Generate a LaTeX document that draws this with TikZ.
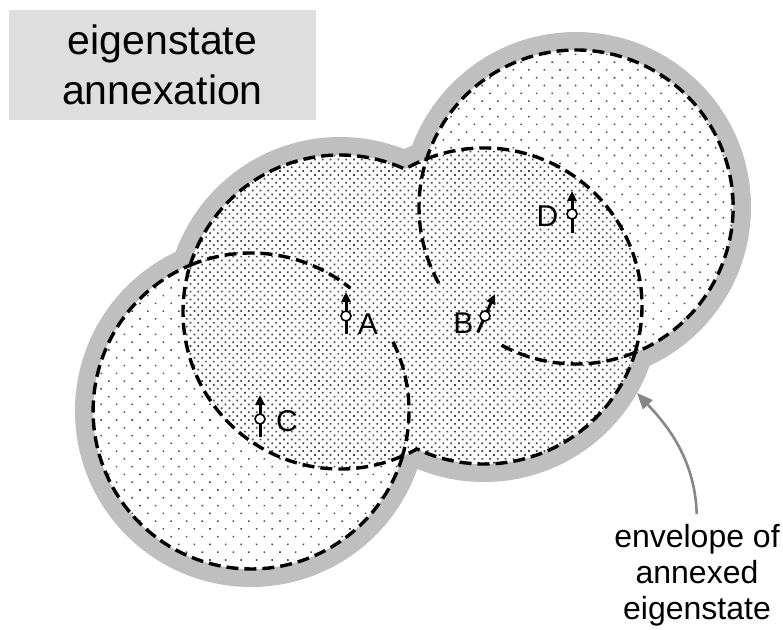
\documentclass[tikz,border=0pt]{standalone}
\usepackage{fontspec}
\setmainfont{Liberation Sans}
\usetikzlibrary{arrows.meta,patterns.meta}

\tikzset{
  band/.style={fill=black!25},
  sparse/.style={pattern={Dots[distance=5.5pt,radius=0.55pt,angle=45]},pattern color=black!70},
  dense/.style={pattern={Dots[distance=2.75pt,radius=0.6pt,angle=45]},pattern color=black!72},
  rim/.style={draw=black,line width=1.7pt,dash pattern=on 6pt off 3pt},
  spin/.style={line width=1.5pt,-{Triangle[length=5pt,width=4.5pt]}},
  knob/.style={circle,draw,fill=white,line width=0.8pt,minimum size=5pt,inner sep=0pt},
  tag/.style={font=\fontsize{15}{17}\selectfont,inner sep=0pt},
}

\begin{document}
\begin{tikzpicture}[x=0.5pt,y=-0.5pt]
   \useasboundingbox (0,0) rectangle (783,630);
   % centres of the four eigenstate discs
   \coordinate (cA) at (340,312);
   \coordinate (cB) at (484,306);
   \coordinate (cC) at (251,411);
   \coordinate (cD) at (576,207);

   % grey envelope and the dotted fills
   \fill[band] (cA) circle[radius=175] (cB) circle[radius=176] (cC) circle[radius=176] (cD) circle[radius=175];
   \fill[white] (cA) circle[radius=157] (cB) circle[radius=158] (cC) circle[radius=158] (cD) circle[radius=157];
   \path[sparse] (cA) circle[radius=157] (cB) circle[radius=158] (cC) circle[radius=158] (cD) circle[radius=157];
   \fill[white] (cA) circle[radius=157] (cB) circle[radius=158];
   \path[dense] (cA) circle[radius=157] (cB) circle[radius=158];

   % outer dashed rim
   \draw[rim] ([shift={(197.4:157)}]cA) arc[start angle=197.4,end angle=294.5,radius=157]
      arc[start angle=-120,end angle=-111.3,radius=158]
      arc[start angle=-162.1,end angle=67.9,radius=157]
      arc[start angle=17.1,end angle=115.2,radius=158]
      arc[start angle=60.7,end angle=66.55,radius=157]
      arc[start angle=16.6,end angle=247.35,radius=158] -- cycle;

   % inner dashed lenses
   \draw[rim] ([shift={(-112.65:158)}]cC) arc[start angle=-112.65,end angle=-51,radius=158];
   \draw[rim] ([shift={(-26:158)}]cC) arc[start angle=-26,end angle=16.6,radius=158];
   \draw[rim] ([shift={(66.55:157)}]cA) arc[start angle=66.55,end angle=197.4,radius=157];
   \draw[rim] ([shift={(-111.3:158)}]cB) arc[start angle=-111.3,end angle=17.1,radius=158];
   \draw[rim] ([shift={(67.9:157)}]cD) arc[start angle=67.9,end angle=119,radius=157];
   \draw[rim] ([shift={(151:157)}]cD) arc[start angle=151,end angle=197.9,radius=157];

   % spins
   \coordinate (bA) at (346,334);
   \coordinate (tA) at (346,292);
   \draw[spin] (bA) -- (tA);
   \node[knob] (mA) at (346,316) {};
   \node[tag] (lA) at (368,324) {A};

   \coordinate (bB) at (477.7,332.5);
   \coordinate (tB) at (495,294);
   \draw[spin] (bB) -- (tB);
   \node[knob] (mB) at (485,316) {};
   \node[tag] (lB) at (463.5,323) {B};

   \coordinate (bC) at (260,437);
   \coordinate (tC) at (260,395);
   \draw[spin] (bC) -- (tC);
   \node[knob] (mC) at (260,419) {};
   \node[tag] (lC) at (287,421) {C};

   \coordinate (bD) at (572,233);
   \coordinate (tD) at (572,191);
   \draw[spin] (bD) -- (tD);
   \node[knob] (mD) at (572,214) {};
   \node[tag] (lD) at (547.5,216) {D};

   % title and note
   \node[fill=black!13,minimum width=153.5pt,minimum height=55pt,align=center,
         font=\fontsize{20.5}{25}\selectfont] (title) at (162.5,65) {eigenstate\\annexation};
   \node[anchor=north,align=center,inner sep=0pt,font=\fontsize{16}{18}\selectfont]
         (note) at (697,524) {envelope of\\annexed\\eigenstate};
   \coordinate (tipE) at (637,393);
   \draw[black!47,line width=1.3pt,-{Triangle[length=8pt,width=6.5pt]},shorten <=5pt]
         (note.north) .. controls (695,455) and (662,420) .. (tipE);
\end{tikzpicture}
\end{document}
